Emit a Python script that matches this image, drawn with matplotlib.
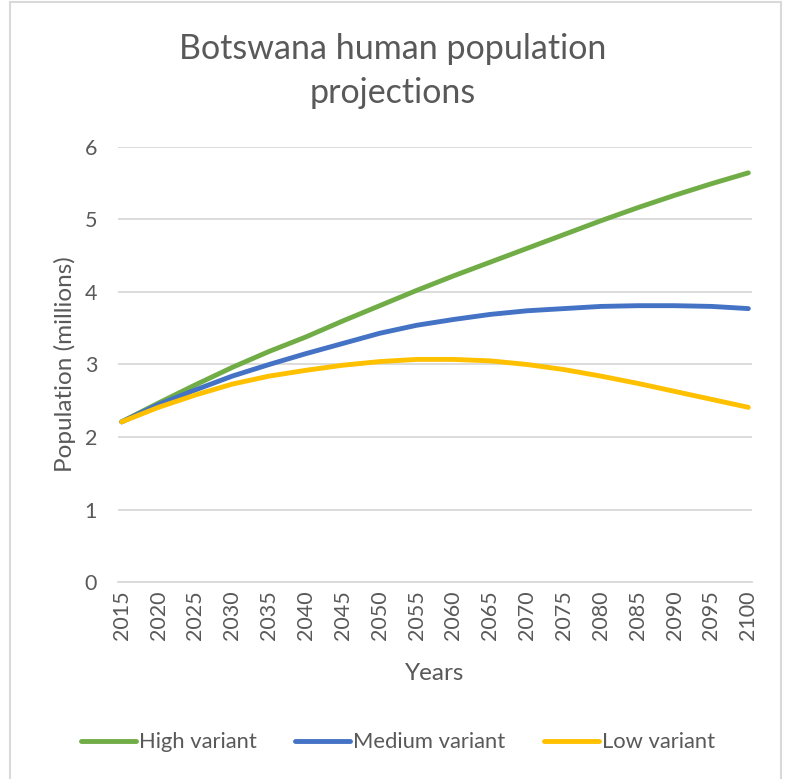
import matplotlib
matplotlib.use('Agg')
import matplotlib.pyplot as plt
from matplotlib.patches import Rectangle

plt.rcParams['font.family'] = ['Lato', 'DejaVu Sans']

years = [2015, 2020, 2025, 2030, 2035, 2040, 2045, 2050, 2055,
         2060, 2065, 2070, 2075, 2080, 2085, 2090, 2095, 2100]
high = [2.21, 2.47, 2.72, 2.96, 3.18, 3.38, 3.60, 3.81, 4.02,
        4.22, 4.41, 4.60, 4.79, 4.98, 5.16, 5.33, 5.49, 5.64]
medium = [2.21, 2.45, 2.65, 2.84, 3.00, 3.15, 3.29, 3.43, 3.54,
          3.62, 3.69, 3.74, 3.77, 3.80, 3.81, 3.81, 3.80, 3.77]
low = [2.21, 2.41, 2.58, 2.73, 2.84, 2.92, 2.99, 3.04, 3.07,
       3.07, 3.05, 3.00, 2.93, 2.84, 2.74, 2.63, 2.52, 2.41]

txt = '#595959'
grid = '#D9D9D9'

fig = plt.figure(figsize=(7.85, 7.79), dpi=100)
ax = fig.add_axes([0.1503, 0.2525, 0.8077, 0.5592])

ax.plot(years, high, color='#70AD47', lw=3.5, solid_capstyle='round', label='High variant')
ax.plot(years, medium, color='#4472C4', lw=3.5, solid_capstyle='round', label='Medium variant')
ax.plot(years, low, color='#FFC000', lw=3.5, solid_capstyle='round', label='Low variant')

ax.set_xlim(2014.5, 2100.5)
ax.set_ylim(0, 6)
ax.set_yticks(range(0, 7))
ax.set_xticks(years)
ax.set_xticklabels([str(y) for y in years], rotation=90)
ax.grid(axis='y', color=grid, lw=1.3)
ax.set_axisbelow(True)
for s in ['top', 'right', 'left']:
    ax.spines[s].set_visible(False)
ax.spines['bottom'].set_color(grid)
ax.spines['bottom'].set_linewidth(1.3)
ax.tick_params(axis='both', length=0, colors=txt, labelsize=15.5)
ax.tick_params(axis='y', pad=15)
ax.tick_params(axis='x', pad=6)

ax.set_xlabel('Years', color=txt, fontsize=17.5, labelpad=16)
ax.set_ylabel('Population (millions)', color=txt, fontsize=17.5, labelpad=6)

fig.text(0.5, 0.909, 'Botswana human population\nprojections', ha='center', va='center',
         color=txt, fontsize=24.5, linespacing=1.45)

fig.legend(loc='center', bbox_to_anchor=(0.507, 0.047), ncol=3, frameon=False,
           fontsize=15.8, handlelength=2.5, handletextpad=0.15, columnspacing=1.75,
           labelcolor=txt)

fig.patches.append(Rectangle((10 / 785, -0.01), 771 / 785, 1 - 2 / 779 + 0.01,
                             transform=fig.transFigure, fill=False,
                             edgecolor=grid, lw=1.5))

fig.savefig('out.png', dpi=100)
